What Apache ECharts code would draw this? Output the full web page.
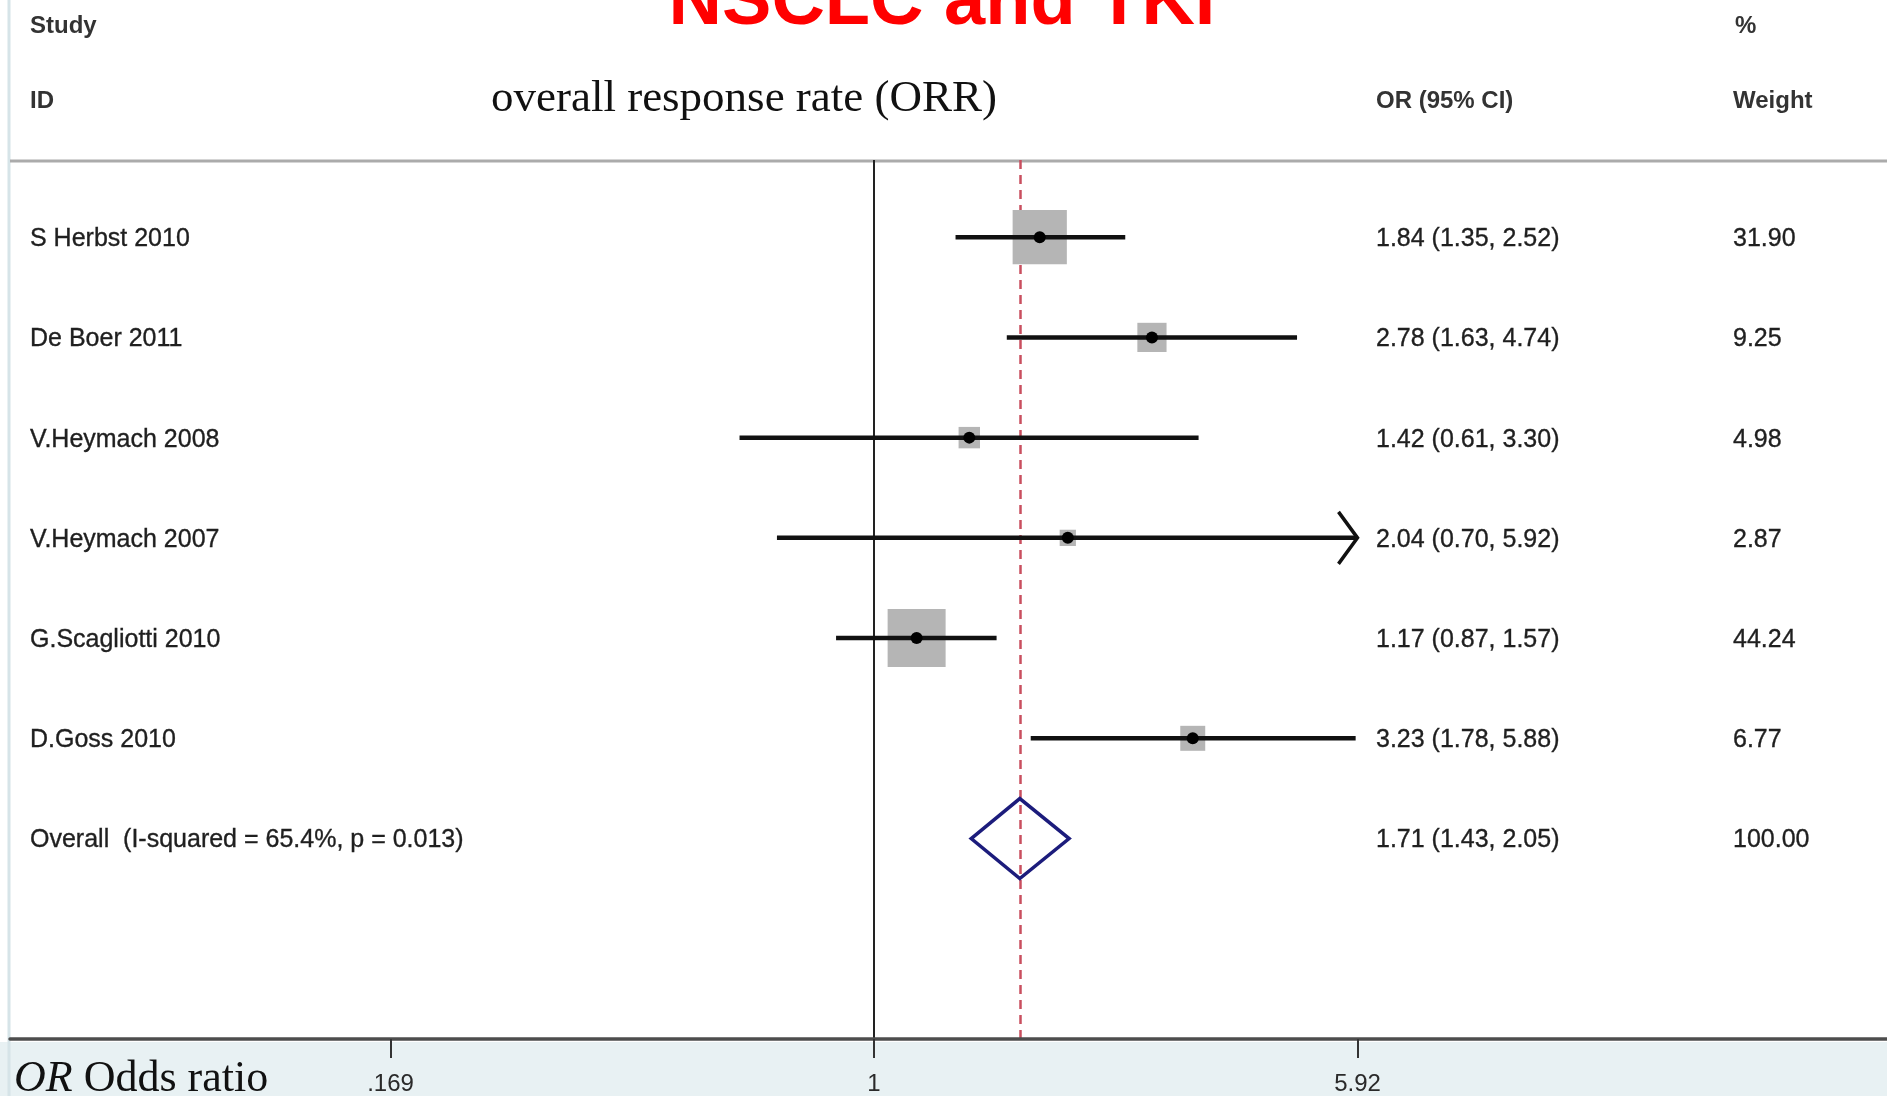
<!DOCTYPE html>
<html>
<head>
<meta charset="utf-8">
<script src="https://cdn.jsdelivr.net/npm/echarts@6/dist/echarts.min.js"></script>
<style>
html,body{margin:0;padding:0;background:#fff;}
#chart{width:1887px;height:1096px;}
</style>
</head>
<body>
<div id="chart"></div>
<script>
// ---- data ----
const chartTitle = 'NSCLC and TKI';
const subTitle = 'overall response rate (ORR)';
const studies = ['S Herbst 2010', 'De Boer 2011', 'V.Heymach 2008', 'V.Heymach 2007', 'G.Scagliotti 2010', 'D.Goss 2010'];
const orValues = [1.84, 2.78, 1.42, 2.04, 1.17, 3.23];
const ciLower = [1.35, 1.63, 0.61, 0.70, 0.87, 1.78];
const ciUpper = [2.52, 4.74, 3.30, 5.92, 1.57, 5.88];
const weights = [31.90, 9.25, 4.98, 2.87, 44.24, 6.77];
const overallLabel = 'Overall  (I-squared = 65.4%, p = 0.013)';
const overallOR = 1.71;
const overallLower = 1.43;
const overallUpper = 2.05;
const overallWeight = 100.00;
const xTickValues = [0.169, 1, 5.92];
const xTickLabels = ['.169', '1', '5.92'];
const headerLeft = ['Study', 'ID'];
const headerCI = 'OR (95% CI)';
const headerWeight = ['%', 'Weight'];
const xAxisTitleItalic = 'OR';
const xAxisTitle = ' Odds ratio';

// ---- build ----
const rows = [];
for (let i = 0; i < studies.length; i++) {
  rows.push([orValues[i], i, ciLower[i], ciUpper[i], weights[i], 0]);
}
rows.push([overallOR, studies.length, overallLower, overallUpper, overallWeight, 1]);

const rowFont = '25px "Liberation Sans", Arial, sans-serif';
const rowColor = '#1f1f1f';
const headFont = 'bold 24px "Liberation Sans", Arial, sans-serif';
const tickMax = xTickValues[xTickValues.length - 1];

function fmt(v) { return v.toFixed(2); }

function txt(str, x, y) {
  return {type: 'text', x: x, y: y, z2: 30,
    style: {text: str, font: rowFont, fill: rowColor, stroke: rowColor, lineWidth: 0.35,
      align: 'left', verticalAlign: 'middle'}};
}

function renderItem(params, api) {
  const i = params.dataIndex;
  const isOverall = api.value(5) === 1;
  const orv = api.value(0), row = api.value(1), lo = api.value(2), hi = api.value(3), w = api.value(4);
  const c = api.coord([orv, row]);
  const pl = api.coord([lo, row]);
  const ph = api.coord([hi, row]);
  const y = c[1];
  const ty = y + 2;
  const children = [];
  const label = isOverall ? overallLabel : studies[i];
  children.push(txt(label, 30, ty));
  children.push(txt(fmt(orv) + ' (' + fmt(lo) + ', ' + fmt(hi) + ')', 1376, ty));
  children.push(txt(fmt(w), 1733, ty));
  if (isOverall) {
    const h = 40;
    children.push({type: 'polygon', z2: 20,
      shape: {points: [[pl[0], y], [c[0], y - h], [ph[0], y], [c[0], y + h]]},
      style: {fill: 'none', stroke: '#1c1c7c', lineWidth: 3.5}});
  } else {
    const s = Math.min(58, 9.6 * Math.sqrt(w));
    children.push({type: 'rect', z2: 10,
      shape: {x: c[0] - s / 2, y: y - s / 2, width: s, height: s},
      style: {fill: '#b5b5b5'}});
    children.push({type: 'line', z2: 15,
      shape: {x1: pl[0], y1: y, x2: ph[0], y2: y},
      style: {stroke: '#111', lineWidth: 4.5}});
    if (hi >= tickMax) {
      children.push({type: 'polyline', z2: 15,
        shape: {points: [[ph[0] - 19, y - 26], [ph[0], y], [ph[0] - 19, y + 26]]},
        style: {stroke: '#111', lineWidth: 3.5, fill: 'none'}});
    }
    children.push({type: 'circle', z2: 16,
      shape: {cx: c[0], cy: y, r: 6},
      style: {fill: '#000'}});
  }
  return {type: 'group', children: children};
}

const chart = echarts.init(document.getElementById('chart'), null, {renderer: 'canvas'});

const option = {
  animation: false,
  backgroundColor: '#ffffff',
  grid: {left: 10, right: 0, top: 160, bottom: 56, containLabel: false},
  xAxis: {
    type: 'log',
    logBase: 10,
    min: 0.0417,
    max: 41.5,
    z: 10,
    axisLine: {show: true, onZero: false, lineStyle: {color: '#4d4d4d', width: 3.5}},
    axisTick: {show: true, customValues: xTickValues, length: 19, lineStyle: {color: '#333', width: 2}},
    axisLabel: {
      show: true,
      customValues: xTickValues,
      margin: 33,
      fontFamily: '"Liberation Sans", Arial, sans-serif',
      fontSize: 24,
      color: '#2a2a2a',
      formatter: function (v) {
        for (let k = 0; k < xTickValues.length; k++) {
          if (Math.abs(v - xTickValues[k]) < 1e-6) return xTickLabels[k];
        }
        return '';
      }
    },
    splitLine: {show: false},
    minorTick: {show: false}
  },
  yAxis: {
    type: 'value',
    inverse: true,
    min: -0.77,
    max: 8,
    show: false,
    splitLine: {show: false}
  },
  graphic: [
    {type: 'rect', z: -10, shape: {x: 0, y: 1042, width: 1887, height: 54}, style: {fill: '#e8f1f3'}},
    {type: 'line', z: -10, shape: {x1: 9, y1: 0, x2: 9, y2: 1096}, style: {stroke: '#d6e4e8', lineWidth: 3}},
    {type: 'line', z: -10, shape: {x1: 10, y1: 161, x2: 1887, y2: 161}, style: {stroke: '#ababab', lineWidth: 3}},
    {type: 'text', x: 942, y: 4, style: {text: chartTitle, font: 'bold 74px "Liberation Sans", Arial, sans-serif', fill: '#ff0000', align: 'center', verticalAlign: 'middle'}},
    {type: 'text', x: 30, y: 26, style: {text: headerLeft[0], font: headFont, fill: '#333', align: 'left', verticalAlign: 'middle'}},
    {type: 'text', x: 30, y: 101, style: {text: headerLeft[1], font: headFont, fill: '#333', align: 'left', verticalAlign: 'middle'}},
    {type: 'text', x: 744, y: 99, style: {text: subTitle, font: '45px "Liberation Serif", "Times New Roman", serif', fill: '#111', align: 'center', verticalAlign: 'middle'}},
    {type: 'text', x: 1376, y: 101, style: {text: headerCI, font: headFont, fill: '#333', align: 'left', verticalAlign: 'middle'}},
    {type: 'text', x: 1735, y: 26, style: {text: headerWeight[0], font: headFont, fill: '#333', align: 'left', verticalAlign: 'middle'}},
    {type: 'text', x: 1733, y: 101, style: {text: headerWeight[1], font: headFont, fill: '#333', align: 'left', verticalAlign: 'middle'}},
    {type: 'text', x: 14, y: 1079, z: 20, style: {
      text: '{i|' + xAxisTitleItalic + '}{n|' + xAxisTitle + '}',
      align: 'left', verticalAlign: 'middle',
      rich: {
        i: {font: 'italic 44px "Liberation Serif", "Times New Roman", serif', fill: '#111'},
        n: {font: '44px "Liberation Serif", "Times New Roman", serif', fill: '#111'}
      }
    }}
  ],
  series: [
    {
      type: 'line',
      data: [],
      z: 1,
      silent: true,
      markLine: {
        silent: true,
        symbol: 'none',
        label: {show: false},
        data: [
          {xAxis: 1, lineStyle: {color: '#222', width: 2, type: 'solid'}},
          {xAxis: overallOR, lineStyle: {color: '#c94f5f', width: 2.5, type: [9, 6]}}
        ]
      }
    },
    {
      type: 'custom',
      z: 5,
      renderItem: renderItem,
      encode: {x: [0, 2, 3], y: 1},
      data: rows,
      clip: false
    }
  ]
};
chart.setOption(option);
</script>
</body>
</html>
